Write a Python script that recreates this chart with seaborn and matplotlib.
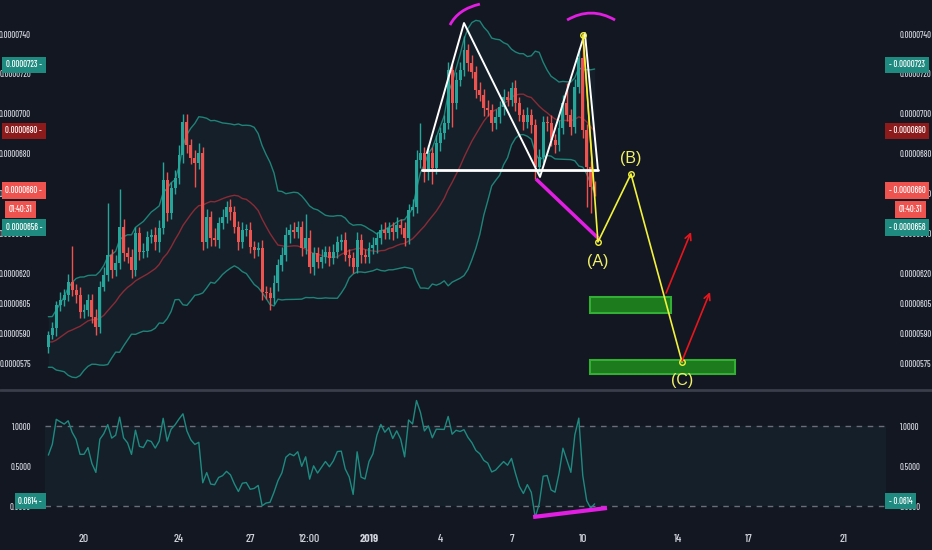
import numpy as np
import pandas as pd
import matplotlib
matplotlib.use("Agg")
import matplotlib.pyplot as plt
import matplotlib.transforms as mtransforms
from matplotlib.patches import Rectangle, PathPatch
from matplotlib.path import Path
from matplotlib.lines import Line2D
import seaborn as sns

# ---------------- data (prices in units of 1e-7) ----------------
prior_closes = [592, 585, 578, 580, 588, 596, 590, 583, 575, 579,
                586, 594, 598, 590, 582, 577, 580, 585, 584]
first_open = 583.0
closes = [589.0, 592.5, 604.1, 606.6, 609.1, 615.6, 611.6, 609.1, 600.6, 601.6,
          606.6, 598.1, 593.1, 613.1, 619.1, 629.2, 621.6, 625.2, 643.2, 630.2,
          628.2, 621.6, 640.2, 630.7, 631.2, 638.2, 639.2, 635.7, 642.7, 666.8,
          650.2, 662.8, 667.8, 679.3, 695.9, 684.3, 677.8, 675.3, 680.3, 635.7,
          648.2, 637.7, 636.7, 645.2, 648.2, 653.2, 650.7, 643.2, 635.7, 641.7,
          641.7, 633.2, 631.7, 632.7, 610.6, 610.1, 607.6, 615.1, 624.2, 629.2,
          639.2, 641.7, 640.7, 643.2, 632.7, 637.7, 623.2, 630.2, 625.7, 628.2,
          630.7, 627.7, 630.7, 635.7, 636.7, 629.2, 627.7, 623.2, 636.7, 629.2,
          628.2, 632.7, 634.2, 637.7, 641.7, 640.2, 642.7, 640.7, 644.2, 642.7,
          637.7, 651.7, 653.2, 676.8, 680.3, 670.8, 680.3, 672.8, 685.3, 690.4,
          695.4, 721.9, 705.4, 716.9, 721.9, 732.0, 725.5, 720.9, 711.9, 709.4,
          702.9, 701.9, 695.4, 698.4, 703.4, 708.4, 706.9, 712.9, 705.4, 699.4,
          695.9, 699.4, 694.4, 673.3, 678.3, 695.9, 695.4, 686.8, 684.3, 692.9,
          705.4, 699.4, 693.4, 713.4, 728.0, 691.9, 673.3, 663.3, 661.8]
upper_wick = [2, 3, 2, 4, 3, 4, 18, 3, 4, 3,
              3, 3, 4, 3, 4, 26, 3, 4, 19, 4,
              3, 4, 3, 3, 4, 3, 3, 4, 4, 9,
              4, 3, 4, 5, 4, 4, 3, 4, 5, 3,
              4, 3, 5, 3, 4, 3, 4, 3, 3, 4,
              3, 4, 3, 3, 4, 3, 3, 4, 3, 4,
              4, 3, 4, 3, 3, 12, 4, 3, 3, 4,
              3, 3, 4, 3, 3, 4, 3, 3, 4, 3,
              3, 3, 4, 3, 3, 4, 3, 3, 4, 3,
              3, 3, 4, 5, 15, 3, 4, 3, 4, 3,
              4, 4, 3, 4, 4, 7, 3, 4, 3, 4,
              3, 4, 3, 4, 3, 4, 3, 3, 4, 3,
              3, 4, 3, 3, 4, 3, 3, 4, 3, 4,
              4, 10, 3, 4, 5, 12, 3, 3, 3]
lower_wick = [3, 2, 4, 3, 3, 3, 3, 4, 3, 3,
              3, 3, 4, 3, 2, 3, 4, 3, 3, 4,
              3, 4, 3, 4, 3, 3, 3, 4, 5, 3,
              4, 3, 3, 3, 4, 4, 3, 12, 3, 4,
              3, 4, 3, 4, 3, 3, 4, 3, 4, 3,
              3, 3, 4, 3, 4, 3, 6, 3, 4, 3,
              3, 4, 3, 3, 4, 3, 3, 4, 3, 3,
              3, 4, 3, 3, 4, 3, 4, 3, 3, 4,
              3, 3, 3, 4, 3, 3, 3, 4, 3, 3,
              4, 3, 3, 3, 4, 5, 4, 8, 3, 4,
              3, 3, 12, 3, 3, 3, 4, 3, 4, 3,
              4, 3, 4, 3, 3, 4, 3, 3, 4, 3,
              4, 3, 4, 6, 4, 3, 4, 3, 4, 3,
              3, 3, 4, 3, 3, 4, 20, 13, 3]
start_day = -13.5          # days relative to 2019-01-01 00:00
bar_days = 1 / 6           # 4h candles

xtick_days = [-12, -8, -5, -2.5, 0, 3, 6, 9, 13, 16, 20]
xtick_labels = ["20", "24", "27", "12:00", "2019", "4", "7", "10", "14", "17", "21"]
price_ticks = [740, 720, 700, 680, 660, 640, 620, 605, 590, 575]
osc_ticks = [1.0, 0.5, 0.0]

# drawing objects (day, price)
w_pattern_days = [2.44, 4.00, 7.20, 9.09, 9.64]
w_pattern_prices = [680.3, 745.5, 668.3, 740.5, 671.8]
neck_days = [2.23, 9.64]
neck_prices = [671.8, 671.8]
div_days = [7.03, 9.64]
div_prices = [667.3, 637.7]
wave_days = [9.01, 9.64, 11.03, 13.18]
wave_prices = [739.5, 635.7, 669.8, 575.5]
wave_labels = ["(A)", "(B)", "(C)"]
wave_label_prices = [625.7, 677.8, 566.0]
orange_days = [9.01, 9.47]
orange_prices = [739.5, 661.8]
zone_days = [(9.31, 12.72), (9.31, 15.41)]
zone_prices = [(600.1, 608.1), (569.5, 576.5)]
arrow_starts = [(12.51, 610.1), (13.18, 576.0)]
arrow_ends = [(13.56, 640.7), (14.36, 610.6)]
arcs = [[(3.41, 744.5), (3.75, 752.5), (4.67, 755.0)],
        [(8.34, 747.0), (9.35, 754.0), (10.36, 747.0)]]
osc_div_days = [6.91, 10.02]
osc_div_vals = [-0.1375, -0.025]

badges = [("0.0000723", 723, "#1f8a80", 0), ("0.0000690", 690, "#8e1b1b", 0),
          ("0.0000660", 660, "#ef5350", 0), ("0.0000656", 660, "#1f8a80", -37)]
countdown = "01:40:31"
osc_badge = ("0.0614", 0.0614)

# ---------------- derived series ----------------
n = len(closes)
days = np.array([start_day + i * bar_days for i in range(n)])
c = np.array(closes)
o = np.array([first_open] + closes[:-1])
hi = np.maximum(o, c) + np.array(upper_wick)
lo = np.minimum(o, c) - np.array(lower_wick)
allc = pd.Series(prior_closes + closes, dtype=float)
basis = allc.rolling(20).mean().values[-n:]
sd = allc.rolling(20).std(ddof=0).values[-n:]
upper = basis + 2 * sd
lower = basis - 2 * sd
pctb = (c - lower) / (upper - lower)

# ---------------- style ----------------
BG = "#131722"
TXT = "#d1d4dc"
UP, DOWN = "#26a69a", "#ef5350"
FONT = ["Barlow Condensed", "DejaVu Sans"]
FS = 6.2
sns.set_theme(style="dark", rc={"axes.facecolor": BG, "figure.facecolor": BG})
plt.rcParams["font.family"] = FONT
plt.rcParams["font.weight"] = 500

W, H = 932, 550
fig = plt.figure(figsize=(W / 100, H / 100), dpi=100, facecolor=BG)
L, R = 45, 886
ax = fig.add_axes([L / W, 1 - 389 / H, (R - L) / W, 389 / H])
ax2 = fig.add_axes([L / W, 1 - 522 / H, (R - L) / W, (522 - 391) / H])
for a in (ax, ax2):
    a.set_facecolor(BG)
    for s in a.spines.values():
        s.set_visible(False)
    a.grid(False)
    a.set_xlim((L - 369) / 23.75, (R - 369) / 23.75)

# ---------------- main pane ----------------
ax.fill_between(days, lower, upper, color=UP, alpha=0.06, lw=0)
sns.lineplot(x=days, y=upper, ax=ax, color="#1f8378", lw=1)
sns.lineplot(x=days, y=lower, ax=ax, color="#1f8378", lw=1)
sns.lineplot(x=days, y=basis, ax=ax, color="#8a2b35", lw=1)

cols = np.where(c >= o, UP, DOWN)
ax.vlines(days, lo, hi, colors=cols, lw=1, zorder=3)
body_h = np.maximum(np.abs(c - o), 0.7)
ax.bar(days, body_h, bottom=np.minimum(o, c), width=0.125, color=cols, lw=0, zorder=4)

ax.plot(neck_days, neck_prices, color="white", lw=2, zorder=6)
ax.plot(w_pattern_days, w_pattern_prices, color="white", lw=1.4, zorder=6)
ax.plot(div_days, div_prices, color="#e31ee3", lw=2.5, zorder=6, solid_capstyle="butt")
ax.plot(orange_days, orange_prices, color="#ff9800", lw=1, zorder=6)
ax.plot(wave_days, wave_prices, color="#f2f23c", lw=1.2, zorder=7,
        marker="o", ms=4, mfc="none", mec="#f2f23c")
for lab, d, p in zip(wave_labels, wave_days[1:], wave_label_prices):
    ax.text(d, p, lab, color="#f2f26a", fontsize=11.5, ha="center", va="center",
            family=["Liberation Sans", "DejaVu Sans"], weight="normal", zorder=8)
for (d0, d1), (p0, p1) in zip(zone_days, zone_prices):
    ax.add_patch(Rectangle((d0, p0), d1 - d0, p1 - p0, facecolor="#1d7a1d",
                           edgecolor="#33b033", lw=1.5, zorder=5))
for s, e in zip(arrow_starts, arrow_ends):
    ax.annotate("", xy=e, xytext=s, zorder=8,
                arrowprops=dict(arrowstyle="->", color="#e8161c", lw=1.2,
                                mutation_scale=11, shrinkA=0, shrinkB=0))
for pts in arcs:
    path = Path(pts, [Path.MOVETO, Path.CURVE3, Path.CURVE3])
    ax.add_patch(PathPatch(path, facecolor="none", edgecolor="#e31ee3", lw=2, zorder=6))

ax.set_ylim(740 - 355 * 0.5015, 740 + 34 * 0.5015)
ax.set_yticks(price_ticks)
ax.set_yticklabels([f"{v * 1e-7:.7f}" for v in price_ticks])
ax.set_xticks([])
ax.tick_params(axis="y", left=False, right=False, labelleft=True, labelright=True,
               labelsize=FS, labelcolor=TXT, pad=4)

# ---------------- oscillator pane ----------------
ax2.fill_between([ax2.get_xlim()[0], ax2.get_xlim()[1]], 0, 1, color=UP, alpha=0.06, lw=0)
for v in (0.0, 1.0):
    ax2.axhline(v, color="#6b6e79", lw=1, ls=(0, (4, 4)))
sns.lineplot(x=days, y=pctb, ax=ax2, color="#1f8a80", lw=1)
ax2.plot(osc_div_days, osc_div_vals, color="#e31ee3", lw=3, solid_capstyle="butt")
ax2.set_ylim(-0.2, 1.4375)
ax2.set_yticks(osc_ticks)
ax2.set_yticklabels([f"{v:.4f}" for v in osc_ticks])
ax2.set_xticks(xtick_days)
ax2.set_xticklabels(xtick_labels)
ax2.get_xticklabels()[4].set_fontweight("bold")
ax2.tick_params(axis="y", left=False, right=False, labelleft=True, labelright=True,
                labelsize=FS, labelcolor=TXT, pad=4)
ax2.tick_params(axis="x", bottom=False, labelsize=8.5, labelcolor=TXT, pad=3)

# separator
fig.add_artist(Line2D([0, 1], [1 - 390 / H, 1 - 390 / H], transform=fig.transFigure,
                      color="#3a3e4a", lw=2))

# ---------------- badges ----------------
def badge(text, yval, color, axis, dy_px, side, x_px=None):
    base = mtransforms.blended_transform_factory(fig.transFigure, axis.transData)
    tr = mtransforms.offset_copy(base, fig=fig, x=0, y=dy_px * 0.72, units="points")
    box = dict(boxstyle="square,pad=0.42", fc=color, ec="none")
    if side == "left":
        fig.text((x_px or 42) / W, yval, text, transform=tr, ha="right", va="center",
                 color="white", fontsize=FS, zorder=10, bbox=box)
    else:
        fig.text((x_px or 889) / W, yval, text, transform=tr, ha="left", va="center",
                 color="white", fontsize=FS, zorder=10, bbox=box)

for txt, val, col, dy in badges:
    badge(txt + " -", val, col, ax, 3 + dy, "left")
    badge("- " + txt, val, col, ax, 3 + dy, "right")
badge(countdown, 660, "#ef5350", ax, 3 - 19, "left", x_px=32)
badge(countdown, 660, "#ef5350", ax, 3 - 19, "right", x_px=899)
badge(osc_badge[0] + " -", osc_badge[1], "#1f8a80", ax2, 0, "left")
badge("- " + osc_badge[0], osc_badge[1], "#1f8a80", ax2, 0, "right")

fig.savefig("out.png", dpi=100, facecolor=BG)
